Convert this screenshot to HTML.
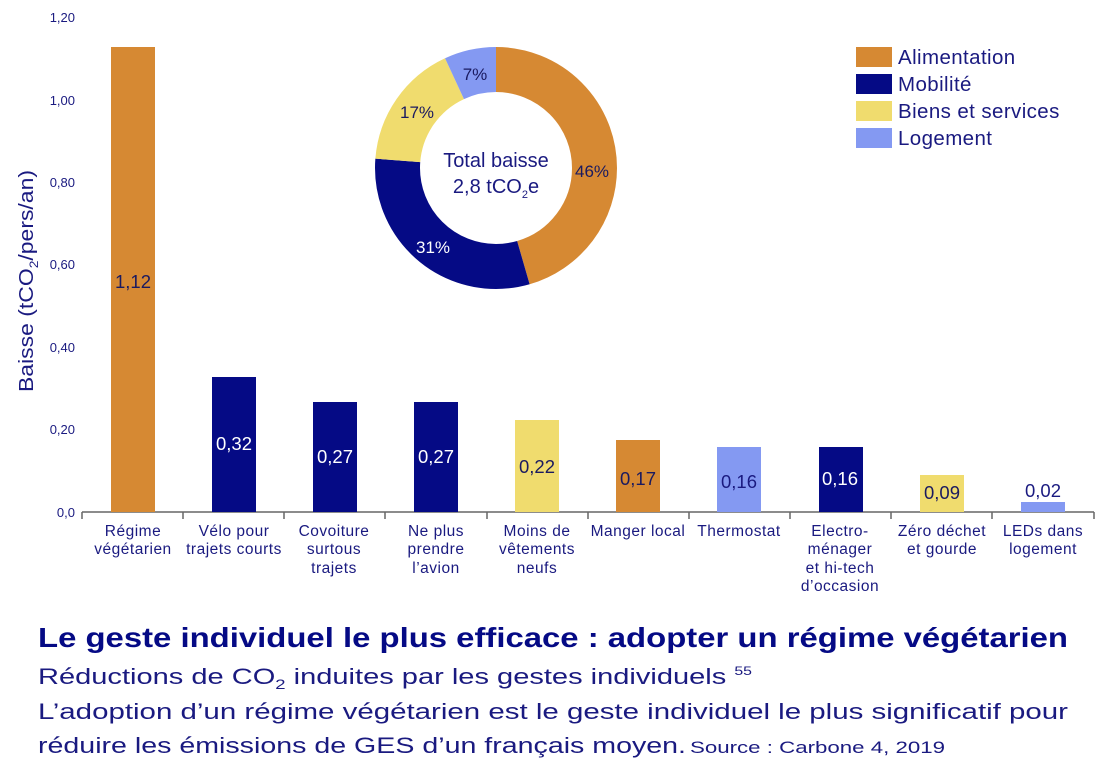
<!DOCTYPE html>
<html><head><meta charset="utf-8"><style>
body{margin:0;background:#fff;width:1107px;height:768px;overflow:hidden;font-family:"Liberation Sans","DejaVu Sans",sans-serif;color:#1a1a80}
</style></head><body>
<svg width="1107" height="768" xmlns="http://www.w3.org/2000/svg" style="position:absolute;left:0;top:0" font-family="Liberation Sans, DejaVu Sans, sans-serif">
<g fill="#1a1a80" font-size="13" text-anchor="end">
<text x="75" y="22">1,20</text><text x="75" y="105">1,00</text><text x="75" y="187">0,80</text>
<text x="75" y="269">0,60</text><text x="75" y="352">0,40</text><text x="75" y="434">0,20</text><text x="75" y="517">0,0</text>
</g>
<text transform="translate(33,281) rotate(-90)" text-anchor="middle" font-size="20" fill="#1a1a80" textLength="222" lengthAdjust="spacingAndGlyphs">Baisse (tCO<tspan font-size="12" dy="5">2</tspan><tspan dy="-5">/pers/an)</tspan></text>
<line x1="82" y1="512" x2="1094" y2="512" stroke="#666" stroke-width="1.5"/>
<g stroke="#666" stroke-width="1.5">
<line x1="82" y1="512" x2="82" y2="519"/><line x1="183" y1="512" x2="183" y2="519"/><line x1="284" y1="512" x2="284" y2="519"/><line x1="385" y1="512" x2="385" y2="519"/><line x1="487" y1="512" x2="487" y2="519"/><line x1="588" y1="512" x2="588" y2="519"/><line x1="689" y1="512" x2="689" y2="519"/><line x1="790" y1="512" x2="790" y2="519"/><line x1="891" y1="512" x2="891" y2="519"/><line x1="992" y1="512" x2="992" y2="519"/><line x1="1094" y1="512" x2="1094" y2="519"/>
</g>
<rect x="111" y="47" width="44" height="465" fill="#D68933"/>
<rect x="212" y="377" width="44" height="135" fill="#050A85"/>
<rect x="313" y="402" width="44" height="110" fill="#050A85"/>
<rect x="414" y="402" width="44" height="110" fill="#050A85"/>
<rect x="515" y="420" width="44" height="92" fill="#F0DC6E"/>
<rect x="616" y="440" width="44" height="72" fill="#D68933"/>
<rect x="717" y="447" width="44" height="65" fill="#8499F2"/>
<rect x="819" y="447" width="44" height="65" fill="#050A85"/>
<rect x="920" y="475" width="44" height="37" fill="#F0DC6E"/>
<rect x="1021" y="502" width="44" height="10" fill="#8499F2"/>
<g font-size="18.5" text-anchor="middle">
<text x="133" y="288" fill="#1a1a60">1,12</text>
<text x="234" y="450" fill="#fff">0,32</text>
<text x="335" y="463" fill="#fff">0,27</text>
<text x="436" y="463" fill="#fff">0,27</text>
<text x="537" y="473" fill="#1a1a60">0,22</text>
<text x="638" y="485" fill="#1a1a60">0,17</text>
<text x="739" y="488" fill="#1a1a80">0,16</text>
<text x="840" y="485" fill="#fff">0,16</text>
<text x="942" y="499" fill="#1a1a60">0,09</text>
<text x="1043" y="497" fill="#1a1a80">0,02</text>
</g>
<g font-size="15.5" letter-spacing="0.5" text-anchor="middle" fill="#1a1a80">
<text x="133" y="536">Régime</text><text x="133" y="554">végétarien</text>
<text x="234" y="536">Vélo pour</text><text x="234" y="554">trajets courts</text>
<text x="334" y="536">Covoiture</text><text x="334" y="554">surtous</text><text x="334" y="573">trajets</text>
<text x="436" y="536">Ne plus</text><text x="436" y="554">prendre</text><text x="436" y="573">l’avion</text>
<text x="537" y="536">Moins de</text><text x="537" y="554">vêtements</text><text x="537" y="573">neufs</text>
<text x="638" y="536">Manger local</text>
<text x="739" y="536">Thermostat</text>
<text x="840" y="536">Electro-</text><text x="840" y="554">ménager</text><text x="840" y="573">et hi-tech</text><text x="840" y="591">d’occasion</text>
<text x="942" y="536">Zéro déchet</text><text x="942" y="554">et gourde</text>
<text x="1043" y="536">LEDs dans</text><text x="1043" y="554">logement</text>
</g>
<g transform="translate(496,168) rotate(-90)" fill="none" stroke-width="45">
<circle r="98.5" stroke="#D68933" stroke-dasharray="281.6 1000" stroke-dashoffset="0"/>
<circle r="98.5" stroke="#050A85" stroke-dasharray="190 1000" stroke-dashoffset="-281.6"/>
<circle r="98.5" stroke="#F0DC6E" stroke-dasharray="104.2 1000" stroke-dashoffset="-471.6"/>
<circle r="98.5" stroke="#8499F2" stroke-dasharray="43.1 1000" stroke-dashoffset="-575.8"/>
</g>
<g font-size="17" text-anchor="middle">
<text x="592" y="177" fill="#1a1a60">46%</text>
<text x="433" y="253" fill="#fff">31%</text>
<text x="417" y="118" fill="#1a1a60">17%</text>
<text x="475" y="80" fill="#1a1a60">7%</text>
</g>
<text x="496" y="167" font-size="20" text-anchor="middle" fill="#1a1a80">Total baisse</text>
<text x="496" y="193" font-size="20" text-anchor="middle" fill="#1a1a80">2,8 tCO<tspan font-size="11" dy="5">2</tspan><tspan dy="-5">e</tspan></text>
<rect x="856" y="47" width="36" height="20" fill="#D68933"/>
<rect x="856" y="74" width="36" height="20" fill="#050A85"/>
<rect x="856" y="101" width="36" height="20" fill="#F0DC6E"/>
<rect x="856" y="128" width="36" height="20" fill="#8499F2"/>
<g font-size="20.5" fill="#1a1a80" letter-spacing="0.4">
<text x="898" y="64">Alimentation</text><text x="898" y="91">Mobilité</text><text x="898" y="118">Biens et services</text><text x="898" y="145">Logement</text>
</g>
<text x="38" y="647" font-size="28" font-weight="bold" fill="#050A85" textLength="1030" lengthAdjust="spacingAndGlyphs">Le geste individuel le plus efficace : adopter un régime végétarien</text>
<text x="38" y="684" font-size="22" fill="#1a1a80" textLength="714" lengthAdjust="spacingAndGlyphs">Réductions de CO<tspan font-size="14" dy="5">2</tspan><tspan dy="-5">  induites par les gestes individuels </tspan><tspan font-size="12" dy="-9">55</tspan></text>
<text x="38" y="719" font-size="22" fill="#1a1a80" textLength="1030" lengthAdjust="spacingAndGlyphs">L’adoption d’un régime végétarien est le geste individuel le plus significatif pour</text>
<text x="38" y="753" font-size="22" fill="#1a1a80" textLength="648" lengthAdjust="spacingAndGlyphs">réduire les émissions de GES d’un français moyen.</text>
<text x="690" y="753" font-size="17" fill="#1a1a80" textLength="255" lengthAdjust="spacingAndGlyphs">Source : Carbone 4, 2019</text>
</svg>
</body></html>
